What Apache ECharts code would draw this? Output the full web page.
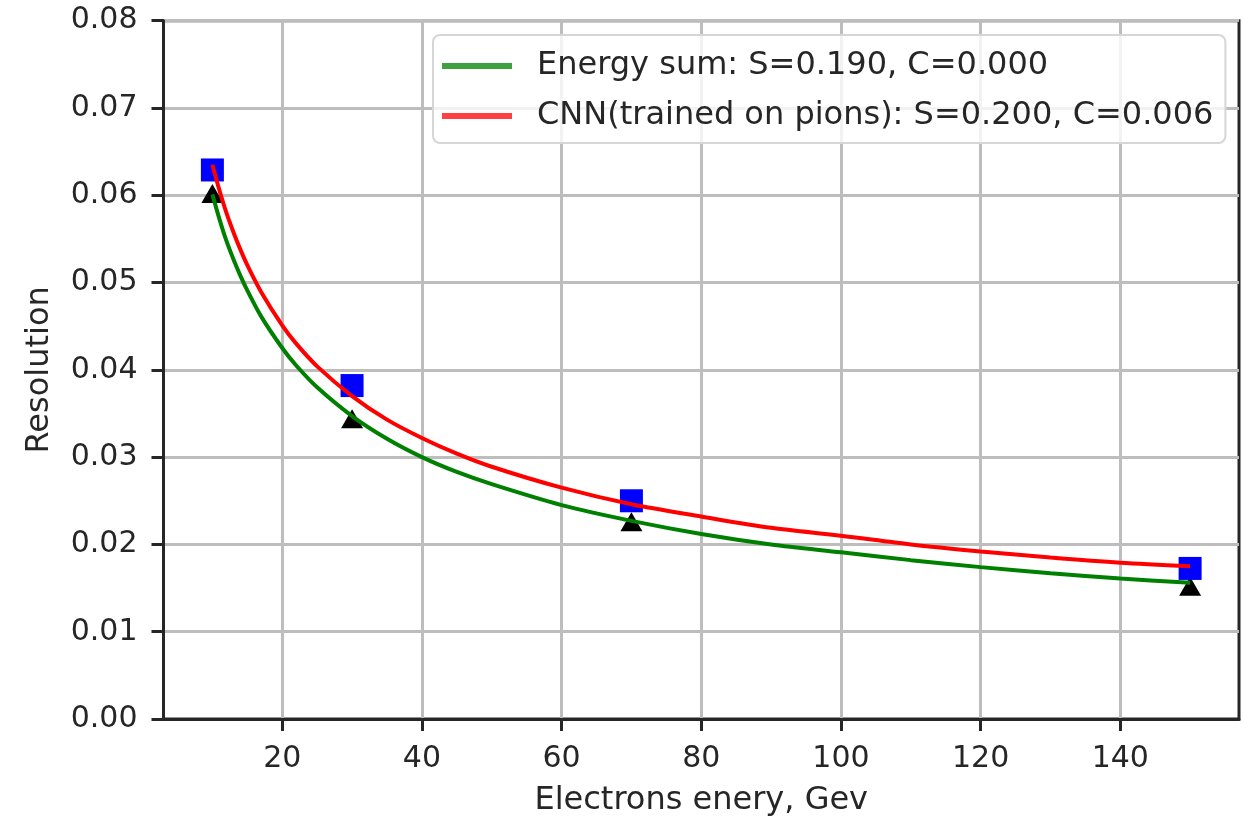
<!DOCTYPE html>
<html>
<head>
<meta charset="utf-8">
<title>Energy resolution</title>
<script src="https://cdn.jsdelivr.net/npm/echarts@6/dist/echarts.min.js"></script>
<style>
  html, body { margin: 0; padding: 0; background: #ffffff; }
  #chart { width: 1243px; height: 822px; }
</style>
</head>
<body>
<div id="chart"></div>
<script>
// Measured resolution at each beam energy
const pointEnergies = [10, 30, 70, 150];
const cnnPoints = [0.0629, 0.0382, 0.0250, 0.01725];
const sumPoints = [0.0602, 0.0344, 0.0226, 0.0152];

// Fitted resolution curves, sampled along the energy range
const curveEnergies = [10, 11, 12, 13, 14, 15, 17, 20, 22, 25, 30, 35, 40, 45, 50, 60, 70, 80, 90, 100, 110, 120, 130, 140, 150];
const sumCurve = [0.0601, 0.0573, 0.0548, 0.0527, 0.0508, 0.0491, 0.0461, 0.0425, 0.0405, 0.0380, 0.0347, 0.0321, 0.0300, 0.0283, 0.0269, 0.0245, 0.0227, 0.0212, 0.0200, 0.0191, 0.0182, 0.0174, 0.0167, 0.0161, 0.0156];
const cnnCurve = [0.0635, 0.0606, 0.0580, 0.0558, 0.0538, 0.0520, 0.0489, 0.0451, 0.0430, 0.0404, 0.0370, 0.0343, 0.0322, 0.0304, 0.0289, 0.0265, 0.0246, 0.0232, 0.0219, 0.0210, 0.0200, 0.0192, 0.0185, 0.0179, 0.0175];

const seriesNames = ['Energy sum: S=0.190, C=0.000', 'CNN(trained on pions): S=0.200, C=0.006'];

// Axis ticks
const xTicks = [20, 40, 60, 80, 100, 120, 140];
const yTicks = [0.00, 0.01, 0.02, 0.03, 0.04, 0.05, 0.06, 0.07, 0.08];

const FONT = 'DejaVu Sans';
const INK = '#262626';
const SIZE = 32;       // legend and axis titles
const TICK_SIZE = 30;  // tick labels

const zip = (xs, ys) => xs.map((x, i) => [x, ys[i]]);

const chart = echarts.init(document.getElementById('chart'), null, { renderer: 'canvas' });

chart.setOption({
  animation: false,
  backgroundColor: '#ffffff',
  textStyle: { fontFamily: FONT },
  grid: {
    left: 163.5, right: 4, top: 20.7, bottom: 101.7,
    show: true, borderColor: INK, borderWidth: 3, backgroundColor: 'transparent'
  },
  legend: {
    left: 433, top: 35,
    orient: 'vertical',
    data: [
      { name: seriesNames[0], itemStyle: { color: '#40a040' } },
      { name: seriesNames[1], itemStyle: { color: '#ff4040' } }
    ],
    icon: 'rect',
    itemWidth: 70, itemHeight: 6,
    itemGap: 12,
    padding: [12, 12, 8, 9],
    backgroundColor: 'rgba(255,255,255,0.8)',
    borderColor: '#d6d6d6', borderWidth: 2, borderRadius: 7,
    textStyle: { fontFamily: FONT, fontSize: SIZE, color: INK, lineHeight: 38, padding: [0, 0, 0, 20] }
  },
  xAxis: {
    type: 'value',
    min: 3, max: 157,
    name: 'Electrons enery, Gev',
    nameLocation: 'middle', nameGap: 66,
    nameTextStyle: { fontFamily: FONT, fontSize: SIZE, color: INK },
    axisLine: { show: true, onZero: false, lineStyle: { color: INK, width: 3 } },
    axisTick: { show: true, length: 12, lineStyle: { color: INK, width: 3 }, customValues: xTicks },
    axisLabel: {
      fontFamily: FONT, fontSize: TICK_SIZE, color: INK, margin: 25,
      customValues: xTicks
    },
    splitLine: { show: true, lineStyle: { color: '#bdbdbd', width: 3 } }
  },
  yAxis: {
    type: 'value',
    min: 0, max: 0.08, interval: 0.01,
    name: 'Resolution',
    nameLocation: 'middle', nameGap: 108, nameRotate: 90,
    nameTextStyle: { fontFamily: FONT, fontSize: SIZE, color: INK },
    axisLine: { show: true, onZero: false, lineStyle: { color: INK, width: 3 } },
    axisTick: { show: true, length: 12, lineStyle: { color: INK, width: 3 } },
    axisLabel: {
      fontFamily: FONT, fontSize: TICK_SIZE, color: INK, margin: 26,
      formatter: v => yTicks.reduce((best, t) => Math.abs(t - v) < Math.abs(best - v) ? t : best).toFixed(2)
    },
    splitLine: { show: true, lineStyle: { color: '#bdbdbd', width: 3 } }
  },
  series: [
    {
      name: 'sum points', type: 'scatter', z: 3,
      symbol: 'triangle', symbolSize: [22, 19],
      itemStyle: { color: '#000000', opacity: 1 },
      data: zip(pointEnergies, sumPoints)
    },
    {
      name: 'cnn points', type: 'scatter', z: 4,
      symbol: 'rect', symbolSize: 23,
      itemStyle: { color: '#0000ff', opacity: 1 },
      data: zip(pointEnergies, cnnPoints)
    },
    {
      name: seriesNames[0], type: 'line', z: 5,
      smooth: 0.3, showSymbol: false, symbol: 'none',
      lineStyle: { color: '#008000', width: 4 },
      itemStyle: { color: '#008000' },
      data: zip(curveEnergies, sumCurve)
    },
    {
      name: seriesNames[1], type: 'line', z: 6,
      smooth: 0.3, showSymbol: false, symbol: 'none',
      lineStyle: { color: '#ff0000', width: 4 },
      itemStyle: { color: '#ff0000' },
      data: zip(curveEnergies, cnnCurve)
    }
  ]
});
</script>
</body>
</html>
